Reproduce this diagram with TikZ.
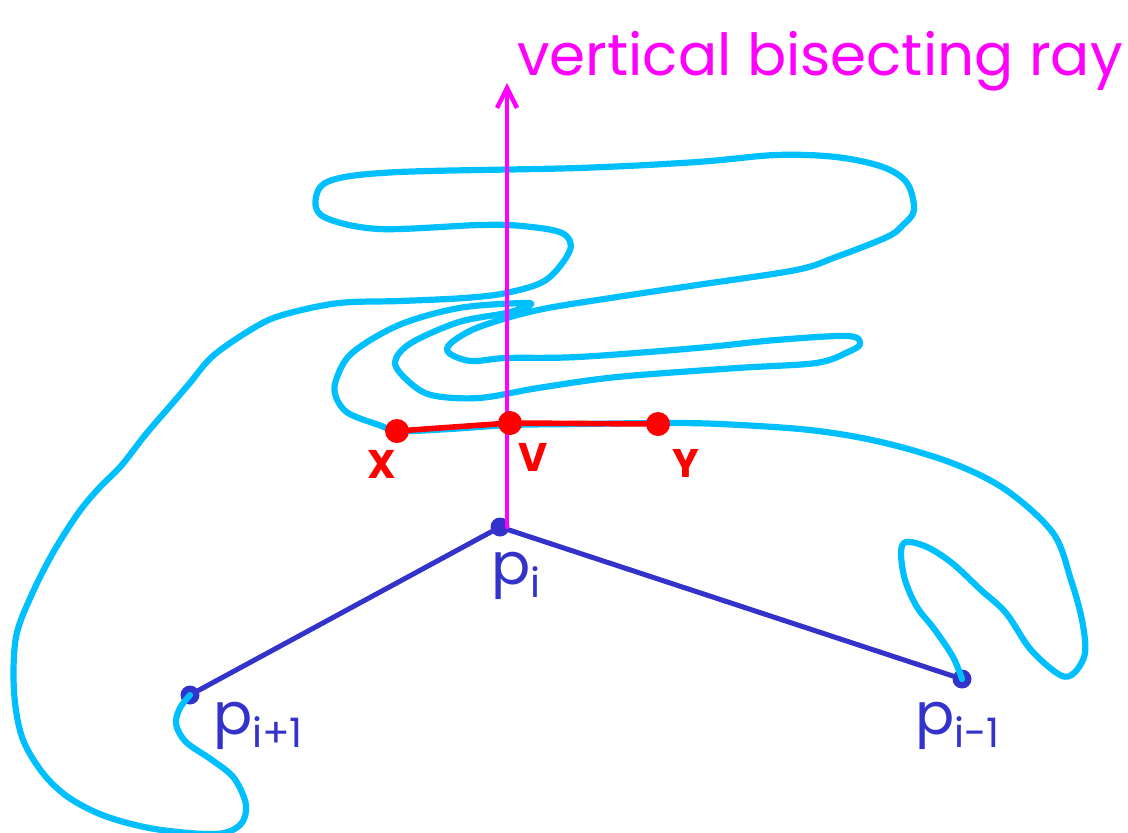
\documentclass[tikz,border=0pt]{standalone}
\usepackage{fontspec}
\setmainfont{Poppins}
\usetikzlibrary{arrows.meta}
\definecolor{skyc}{RGB}{0,191,255}
\definecolor{polyc}{RGB}{51,51,204}
\definecolor{rayc}{RGB}{255,0,255}
\definecolor{segc}{RGB}{255,0,0}

\begin{document}
\begin{tikzpicture}[x=0.5pt, y=-0.5pt, line cap=round, line join=round,
  curve/.style={skyc, line width=3.1pt},
  poly/.style={polyc, line width=2.5pt},
  ray/.style={rayc, line width=2.2pt, -{Straight Barb[length=10pt, width=10pt, line width=2.2pt]}},
  seg/.style={segc, line width=2.8pt},
  bdot/.style={circle, fill=polyc, inner sep=0pt, minimum size=9.5pt},
  rdot/.style={circle, fill=segc, inner sep=0pt, minimum size=12pt},
  plbl/.style={text=polyc, font=\fontsize{29}{32}\selectfont},
  rlbl/.style={text=segc, font=\bfseries\fontsize{20}{24}\selectfont},
  ttl/.style={text=rayc, font=\fontsize{29}{34}\selectfont}]

\useasboundingbox (0,0) rectangle (1128,832);

\node[bdot] (pip) at (190,695) {};
\node[bdot] (pi) at (500,527) {};
\node[bdot] (pim) at (962,679) {};
\draw[poly] (pip) -- (pi) -- (pim);

% the wiggly curve, from p_{i+1} to p_{i-1}
\draw[curve] plot[smooth, tension=0.55] coordinates {(pip.center) (180,708) (176,724) (186,742) (212,760) (234,778) (246,805) (240,825) (215,834) (155,829) (105,816) (68,797) (42,772) (22,737) (14,691) (16,637) (32,594) (54,551) (79,512) (100,487) (121,466) (146,434) (171,405) (189,384) (214,355) (257,326) (286,314) (339,303) (400,301) (464,298) (506,293) (546,280) (570,250) (562,233) (522,226) (479,225) (379,229) (324,217) (316,197) (332,180) (399,172) (578,168) (697,162) (776,155) (836,157) (883,167) (907,183) (914,210) (903,225) (887,237) (836,257) (796,270) (697,285) (617,297) (538,310) (479,327) (451,343) (449,353) (471,361) (506,358) (578,357) (697,348) (776,340) (848,336) (860,344) (848,352) (816,363) (737,368) (617,377) (538,388) (479,398) (431,395) (407,380) (395,362) (411,343) (459,322) (506,313) (530,305) (522,303) (459,308) (399,325) (352,353) (336,380) (336,397) (348,413) (379,425) (399,431) (450,429) (510,425) (580,424) (660,423) (720,424) (810,430) (881,442) (952,463) (1006,490) (1053,533) (1071,580) (1082,620) (1085,653) (1074,673) (1060,675) (1031,650) (1006,613) (981,590) (952,563) (927,547) (906,542) (901,553) (905,580) (917,607) (935,630) (953,657) (pim.center)};

\coordinate (raytop) at (507,83);
\draw[ray] ([xshift=3.5pt]pi.center) -- (raytop);

\node[rdot] (x) at (397,431) {};
\node[rdot] (v) at (510,423) {};
\node[rdot] (y) at (658,424) {};
\draw[seg] (x) -- (v) -- (y);

\node[rlbl] (xl) at (382,464) {X};
\node[rlbl] (vl) at (533,457) {V};
\node[rlbl] (yl) at (686,463) {Y};
\node[plbl, anchor=base west] (pil) at (484,584) {p\textsubscript{i}};
\node[plbl, anchor=base west] (pipl) at (206,734) {p\textsubscript{i+1}};
\node[plbl, anchor=base west] (piml) at (908,734) {p\textsubscript{i-1}};
\node[ttl, anchor=base] (title) at (820,75) {vertical bisecting ray};
\end{tikzpicture}
\end{document}
